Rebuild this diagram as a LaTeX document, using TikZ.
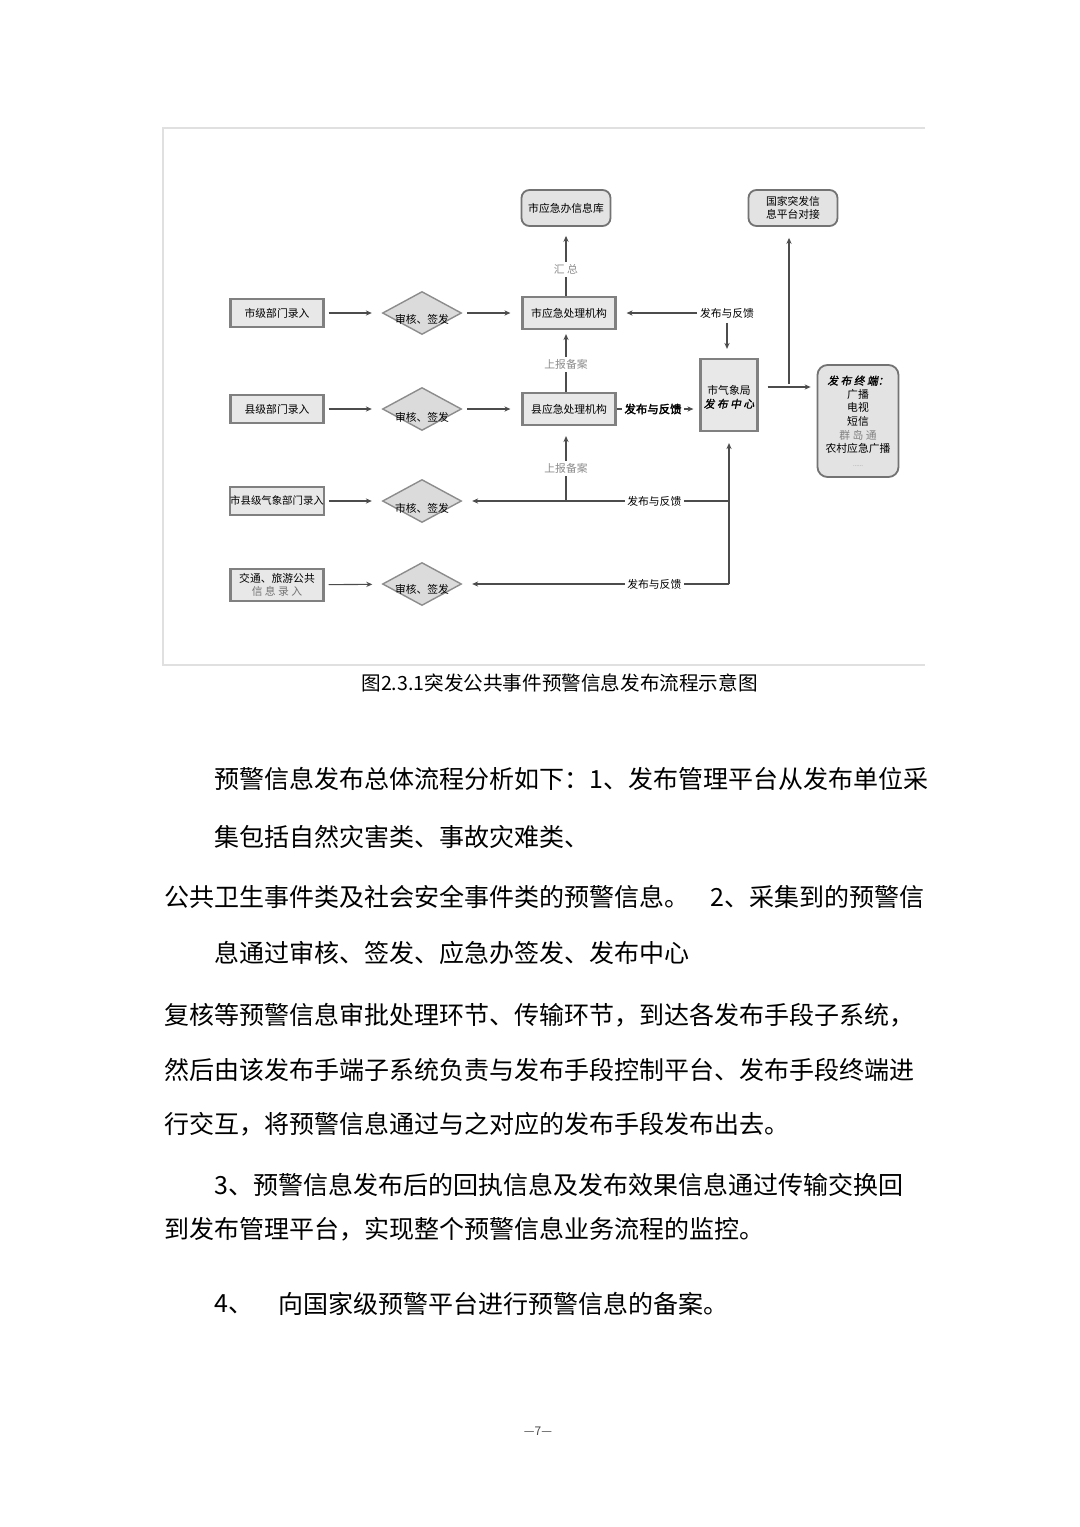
\documentclass[tikz,border=0pt]{standalone}
\usepackage{fontspec}
\setmainfont{Noto Sans CJK SC}
\newfontfamily\cjkbold[FakeBold=2.5]{Noto Sans CJK SC}
\newfontfamily\cjkslant[FakeSlant=0.2,FakeBold=1.5]{Noto Sans CJK SC}
\usetikzlibrary{shapes.geometric,arrows.meta}
\newcommand\dgfont{\fontsize{5.4pt}{6.8pt}\selectfont}
\newcommand\dgbfont{\cjkbold\fontsize{5.7pt}{6.8pt}\selectfont}
\begin{document}
\begin{tikzpicture}[x=0.5pt,y=-0.5pt,
  inbox/.style={draw=black!50, line width=1.1pt, fill=black!9, minimum width=46.5pt, minimum height=14pt, inner sep=0pt, align=center, font=\dgfont},
  procbox/.style={inbox, minimum height=16pt},
  rbox/.style={draw=black!55, line width=0.9pt, fill=black!11, rounded corners=4pt, minimum width=44.5pt, minimum height=18pt, inner sep=0pt, align=center, font=\dgfont},
  dia/.style={diamond, draw=black!45, line width=0.7pt, fill=black!14, minimum width=39.5pt, minimum height=21.5pt, inner sep=0pt},
  dtext/.style={font=\dgfont, inner sep=0pt},
  conn/.style={draw=black!70, line width=0.55pt, -{Stealth[length=3pt,width=2.6pt]}},
  elbl/.style={fill=white, inner sep=1.2pt, font=\dgfont},
  glbl/.style={elbl, text=black!45},
  body/.style={anchor=west, inner sep=0pt, font=\fontsize{12.5pt}{15pt}\selectfont}]
\useasboundingbox (0,0) rectangle (1080,1527);
\fill[white] (0,0) rectangle (1080,1527);

% frame of the figure
\draw[black!12, line width=0.8pt] (925,128) -- (163,128) -- (163,665) -- (925,665);

% nodes
\node[rbox] (db) at (566,208) {市应急办信息库};
\node[rbox] (nat) at (793,208) {国家突发信\\息平台对接};

\node[inbox] (in1) at (277,313) {市级部门录入};
\node[dia] (d1) at (422,313) {};
\node[dtext] (t1) at ([yshift=-3pt]d1.center) {审核、签发};
\node[procbox] (city) at (569,313) {市应急处理机构};

\node[inbox] (in2) at (277,409) {县级部门录入};
\node[dia] (d2) at (422,409) {};
\node[dtext] (t2) at ([yshift=-4pt]d2.center) {审核、签发};
\node[procbox] (county) at (569,409) {县应急处理机构};

\node[inbox, font=\fontsize{5.2pt}{6.5pt}\selectfont] (in3) at (277,501) {市县级气象部门录入};
\node[dia] (d3) at (422,501) {};
\node[dtext] (t3) at ([yshift=-3.5pt]d3.center) {市核、签发};

\node[inbox, minimum height=16pt] (in4) at (277,585) {交通、旅游公共\\{\color{black!55}信 息 录 入}};
\node[dia] (d4) at (422,584) {};
\node[dtext] (t4) at ([yshift=-2.5pt]d4.center) {审核、签发};

\node[inbox, minimum width=28.5pt, minimum height=36pt] (qx) at (729,395) {};
\node[dtext, align=center] (qxt) at ([yshift=-1pt]qx.center) {市气象局\\{\cjkslant 发 布 中 心}};
\node[rbox, minimum width=40.5pt, minimum height=56pt, rounded corners=5pt] (term) at (858,421)
  {{\cjkslant 发 布 终 端：}\\广播\\电视\\短信\\{\color{black!50}群 岛 通}\\农村应急广播\\{\color{black!45}\fontsize{3pt}{5pt}\selectfont ......}};

\coordinate (vx) at (566,0);
\coordinate (qxx) at (729,0);
\coordinate (jn) at (789,384);

% input rows
\draw[conn, shorten <=2pt, shorten >=5pt] (in1) -- (d1);
\draw[conn, shorten <=2.5pt, shorten >=5.5pt] (d1) -- (city);
\draw[conn, shorten <=2pt, shorten >=5pt] (in2) -- (d2);
\draw[conn, shorten <=2.5pt, shorten >=5.5pt] (d2) -- (county);
\draw[conn, shorten <=2pt, shorten >=5pt] (in3) -- (d3);
\draw[conn, shorten <=2pt, shorten >=5pt] (in4) -- (d4);

% vertical reporting links
\draw[conn, shorten >=4.5pt] (db.south |- city.north) -- node[glbl, pos=0.38] {汇\ 总} (db.south);
\draw[conn, shorten >=2pt] (vx |- county.north) -- node[glbl, pos=0.44] {上报备案} (vx |- city.south);
\draw[conn, shorten >=5pt] (vx |- d3) -- node[glbl, pos=0.43] {上报备案} (vx |- county.south);

% feedback lines
\draw[conn, shorten >=5pt] (qxx |- d3) -- node[elbl, pos=0.28] {发布与反馈} (d3.east);
\draw[conn, shorten >=5pt] (qxx |- d4) -- node[elbl, pos=0.28] {发布与反馈} (d4.east);
\draw[conn, shorten >=5.5pt] (qxx |- d4) -- (qxx |- qx.south);

\node[elbl] (fb1) at (727,313) {发布与反馈};
\draw[conn, shorten >=5pt] (fb1.west) -- (city.east);
\draw[conn, shorten <=1pt, shorten >=4.5pt] (fb1.south) -- (fb1.south |- qx.north);

\draw[conn, line width=0.7pt, shorten >=3pt] (county.east) -- node[elbl, font=\dgbfont, pos=0.44] {发布与反馈} (county.east -| qx.west);

% to terminals and national platform
\draw[conn, shorten <=4.5pt, shorten >=3pt] ([yshift=4pt]qx.east) -- ([yshift=4pt]qx.east -| term.west);
\draw[conn, shorten >=5.5pt] (jn) -- (jn |- nat.south);

% caption
\node[anchor=west, inner sep=0pt, font=\fontsize{9.8pt}{12pt}\selectfont] (cap) at (361,683) {图2.3.1突发公共事件预警信息发布流程示意图};

% body text
\node[body] (l1) at (214,779) {预警信息发布总体流程分析如下：1、发布管理平台从发布单位采};
\node[body] (l2) at (214,837) {集包括自然灾害类、事故灾难类、};
\node[body] (l3a) at (164,897) {公共卫生事件类及社会安全事件类的预警信息。};
\node[body] (l3b) at (710,897) {2、采集到的预警信};
\node[body] (l4) at (214,953) {息通过审核、签发、应急办签发、发布中心};
\node[body] (l5) at (164,1015) {复核等预警信息审批处理环节、传输环节，到达各发布手段子系统，};
\node[body] (l6) at (164,1070) {然后由该发布手端子系统负责与发布手段控制平台、发布手段终端进};
\node[body] (l7) at (164,1124) {行交互，将预警信息通过与之对应的发布手段发布出去。};
\node[body] (l8) at (214,1185) {3、预警信息发布后的回执信息及发布效果信息通过传输交换回};
\node[body] (l9) at (164,1229) {到发布管理平台，实现整个预警信息业务流程的监控。};
\node[body] (l10a) at (214,1304) {4、};
\node[body] (l10b) at (278,1304) {向国家级预警平台进行预警信息的备案。};

\node[inner sep=0pt, text=black!70, font=\fontsize{6pt}{7pt}\selectfont] (pg) at (538,1431) {—7—};
\end{tikzpicture}
\end{document}
